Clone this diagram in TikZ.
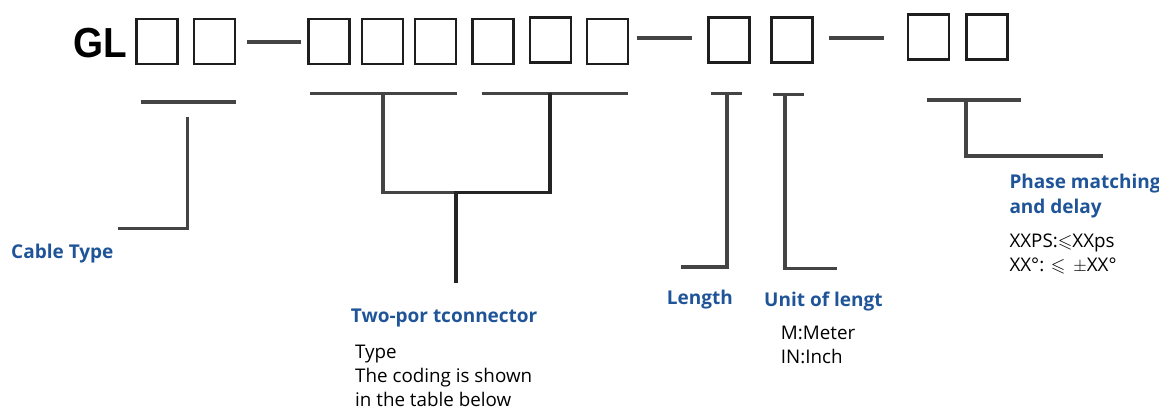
\documentclass[tikz,border=0pt]{standalone}
\usepackage{amssymb}
\usepackage{fontspec}
\setmainfont{Open Sans}
\newfontfamily\codefont{Liberation Sans}
\definecolor{labelblue}{HTML}{1F5598}
\definecolor{barline}{HTML}{444444}
\definecolor{boxline}{HTML}{1E1E1E}
\tikzset{
  slot/.style={draw=boxline, line width=2.6pt, minimum width=41pt, minimum height=45pt, inner sep=0pt},
  sep/.style={draw=barline, line width=4pt},
  bracket/.style={draw=barline, line width=3.6pt},
  joint/.style={draw=boxline!85!barline, line width=3.6pt},
  title/.style={anchor=base west, inner sep=0pt, text=labelblue, font=\fontsize{19}{25}\selectfont\bfseries},
  note/.style={anchor=base west, inner sep=0pt, text=black, align=left, font=\fontsize{18.8}{24.2}\selectfont}
}
\begin{document}
\begin{tikzpicture}[x=1pt, y=-1pt]
\useasboundingbox (0,0) rectangle (1159,410);

% part number code
\node[anchor=base west, inner sep=0pt, font=\codefont\fontsize{42}{42}\selectfont\bfseries, xscale=0.92] (gl) at (73.5,57) {GL};

\node[slot] (b1) at (157,41.5) {};
\node[slot] (b2) at (214.5,41.5) {};
\node[slot] (b3) at (328.7,41.5) {};
\node[slot] (b4) at (382.3,41.5) {};
\node[slot] (b5) at (435.5,41.5) {};
\node[slot] (b6) at (492.8,41.5) {};
\node[slot] (b7) at (550.3,40.2) {};
\node[slot] (b8) at (607.3,41.5) {};
\node[slot] (b9) at (728.7,40.2) {};
\node[slot] (b10) at (791.8,40.2) {};
\node[slot] (b11) at (928.3,36.7) {};
\node[slot] (b12) at (987,36.7) {};

\draw[sep] (b2.east) ++(11,0) coordinate (d1a) -- ++(54,0) coordinate (d1b);
\draw[sep] (636.7,38.3) coordinate (d2a) -- (691.7,38.3) coordinate (d2b);
\draw[sep] (829.3,38.3) coordinate (d3a) -- (884,38.3) coordinate (d3b);

% cable type
\coordinate (ctl) at (140.7,101.7);
\coordinate (ctr) at (236,101.7);
\coordinate (ctv) at (187.3,116.7);
\coordinate (ctc) at (187.3,228.3);
\coordinate (cte) at (118.3,228.3);
\draw[bracket] (ctl) -- (ctr);
\draw[bracket] (ctv) -- (ctc) -- (cte);
\node[title] (cable) at (11,258) {Cable Type};

% two-port connector
\coordinate (pal) at (310,93.3);
\coordinate (par) at (457.3,93.3);
\coordinate (pbl) at (481.7,93.3);
\coordinate (pbr) at (628.3,93.3);
\coordinate (pjl) at (382.7,192.3);
\coordinate (pjm) at (456,192.3);
\coordinate (pjr) at (550,192.3);
\coordinate (pend) at (456,283.3);
\draw[bracket] (pal) -- (par);
\draw[bracket] (pbl) -- (pbr);
\draw[bracket] (pjl |- pal) -- (pjl) -- (pjm);
\draw[joint] (pjr |- pbl) -- (pjr) -- (pjm) -- (pend);
\node[title] (port) at (350.7,322.7) {Two-por tconnector};
% multi-line notes are placed by the baseline of their last line
\node[note] (porttxt) at (355,406.7) {Type\\The coding is shown\\in the table below};

% length
\coordinate (lnl) at (710.7,93.3);
\coordinate (lnr) at (741.7,93.3);
\coordinate (lnv) at (726.7,93.3);
\coordinate (lnc) at (726.7,266.7);
\coordinate (lne) at (681,266.7);
\draw[bracket] (lnl) -- (lnr);
\draw[bracket] (lnv) -- (lnc) -- (lne);
\node[title] (len) at (666.7,304) {Length};

% unit of length
\coordinate (unl) at (772.7,94.3);
\coordinate (unr) at (804,94.3);
\coordinate (unv) at (785,94.3);
\coordinate (unc) at (785,268.3);
\coordinate (une) at (837.3,268.3);
\draw[bracket] (unl) -- (unr);
\draw[bracket] (unv) -- (unc) -- (une);
\node[title] (unit) at (764,306.7) {Unit of lengt};
\node[note] (unittxt) at (780.7,363.3) {M:Meter\\IN:Inch};

% phase matching and delay
\coordinate (phl) at (926.7,99.7);
\coordinate (phr) at (1021,99.7);
\coordinate (phv) at (965.7,99.7);
\coordinate (phc) at (965.7,155.7);
\coordinate (phe) at (1102.7,155.7);
\draw[bracket] (phl) -- (phr);
\draw[bracket] (phv) -- (phc) -- (phe);
\node[title, align=left] (phase) at (1009.3,213) {Phase matching\\and delay};
\node[note, font=\fontsize{18.8}{23.3}\selectfont] (phasetxt) at (1009.3,271) {XXPS:$\leqslant$XXps\\XX\textdegree: $\leqslant$ \,$\pm$XX\textdegree};
\end{tikzpicture}
\end{document}
